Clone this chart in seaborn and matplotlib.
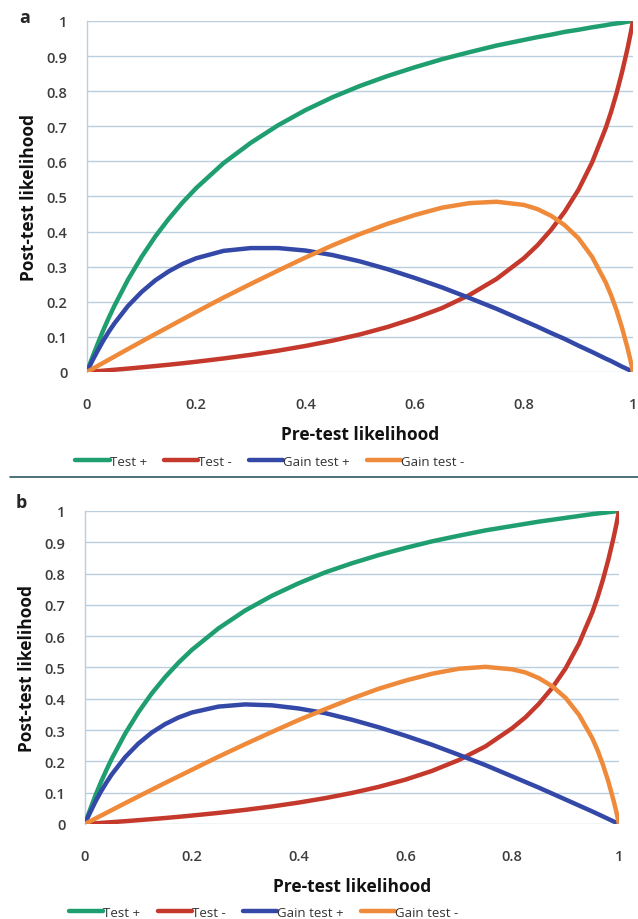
import numpy as np
import pandas as pd
import matplotlib
matplotlib.use("Agg")
import matplotlib.pyplot as plt
import seaborn as sns
from matplotlib.lines import Line2D

# Pre-test likelihood sample points
pre_test = [0, 0.005, 0.01, 0.02, 0.03, 0.04, 0.05, 0.075, 0.1, 0.125, 0.15, 0.175, 0.2,
            0.25, 0.3, 0.35, 0.4, 0.45, 0.5, 0.55, 0.6, 0.65, 0.7, 0.75, 0.8,
            0.825, 0.85, 0.875, 0.9, 0.925, 0.95, 0.96, 0.97, 0.98, 0.99, 0.995, 1]

# Panel a
a_test_pos = [0, 0.022, 0.043, 0.082, 0.120, 0.155, 0.188, 0.263, 0.328, 0.386, 0.437, 0.483, 0.524,
              0.595, 0.653, 0.703, 0.746, 0.783, 0.815, 0.843, 0.868, 0.891, 0.911, 0.930, 0.946,
              0.954, 0.961, 0.969, 0.975, 0.982, 0.988, 0.991, 0.993, 0.995, 0.998, 0.999, 1]
a_test_neg = [0, 0.0006, 0.0012, 0.0024, 0.0037, 0.0050, 0.0063, 0.0096, 0.0132, 0.0169, 0.0207, 0.0248, 0.0291,
              0.0385, 0.0489, 0.0607, 0.0741, 0.0894, 0.107, 0.128, 0.153, 0.182, 0.219, 0.265, 0.324,
              0.361, 0.405, 0.457, 0.519, 0.597, 0.695, 0.742, 0.795, 0.855, 0.922, 0.960, 1]
a_gain_pos = [0, 0.017, 0.033, 0.062, 0.090, 0.115, 0.138, 0.188, 0.228, 0.261, 0.287, 0.308, 0.324,
              0.345, 0.353, 0.353, 0.346, 0.333, 0.315, 0.293, 0.268, 0.241, 0.211, 0.180, 0.146,
              0.129, 0.111, 0.094, 0.075, 0.057, 0.038, 0.031, 0.023, 0.015, 0.008, 0.004, 0]
a_gain_neg = [0, 0.0044, 0.0088, 0.0176, 0.0263, 0.0350, 0.0437, 0.0654, 0.0868, 0.108, 0.129, 0.150, 0.171,
              0.212, 0.251, 0.289, 0.326, 0.361, 0.393, 0.422, 0.447, 0.468, 0.481, 0.485, 0.476,
              0.464, 0.445, 0.418, 0.381, 0.328, 0.255, 0.218, 0.175, 0.125, 0.068, 0.035, 0]

# Panel b
b_test_pos = [0, 0.025, 0.048, 0.093, 0.134, 0.172, 0.208, 0.288, 0.357, 0.417, 0.469, 0.515, 0.556,
              0.625, 0.682, 0.729, 0.769, 0.804, 0.833, 0.859, 0.882, 0.903, 0.921, 0.938, 0.952,
              0.959, 0.966, 0.972, 0.978, 0.984, 0.990, 0.992, 0.994, 0.996, 0.998, 0.999, 1]
b_test_neg = [0, 0.0006, 0.0011, 0.0022, 0.0034, 0.0046, 0.0058, 0.0088, 0.0121, 0.0155, 0.0190, 0.0228, 0.0268,
              0.0354, 0.0450, 0.0559, 0.0683, 0.0826, 0.0991, 0.1185, 0.1416, 0.1696, 0.2042, 0.248, 0.306,
              0.341, 0.384, 0.435, 0.497, 0.576, 0.676, 0.725, 0.781, 0.844, 0.916, 0.956, 1]
b_gain_pos = [0, 0.020, 0.038, 0.073, 0.104, 0.132, 0.158, 0.213, 0.257, 0.292, 0.319, 0.340, 0.356,
              0.375, 0.382, 0.379, 0.369, 0.354, 0.333, 0.309, 0.282, 0.253, 0.221, 0.188, 0.152,
              0.134, 0.116, 0.097, 0.078, 0.059, 0.040, 0.032, 0.024, 0.016, 0.008, 0.004, 0]
b_gain_neg = [0, 0.0045, 0.0089, 0.0178, 0.0266, 0.0354, 0.0442, 0.0662, 0.0879, 0.1095, 0.131, 0.152, 0.173,
              0.215, 0.255, 0.294, 0.332, 0.367, 0.401, 0.432, 0.458, 0.480, 0.496, 0.502, 0.494,
              0.484, 0.466, 0.440, 0.403, 0.349, 0.274, 0.235, 0.189, 0.136, 0.074, 0.039, 0]

series_names = ["Test +", "Test -", "Gain test +", "Gain test -"]
colors = ["#1f9e70", "#c4392c", "#3448a8", "#ef8a3a"]
tick_vals = [0, 0.2, 0.4, 0.6, 0.8, 1]
tick_labels = ["0", "0.2", "0.4", "0.6", "0.8", "1"]
ytick_vals = [0, 0.1, 0.2, 0.3, 0.4, 0.5, 0.6, 0.7, 0.8, 0.9, 1]
ytick_labels = ["0", "0.1", "0.2", "0.3", "0.4", "0.5", "0.6", "0.7", "0.8", "0.9", "1"]


def make_df(s1, s2, s3, s4):
    frames = []
    for name, vals in zip(series_names, [s1, s2, s3, s4]):
        frames.append(pd.DataFrame({"x": pre_test, "y": vals, "series": name}))
    return pd.concat(frames, ignore_index=True)


df_a = make_df(a_test_pos, a_test_neg, a_gain_pos, a_gain_neg)
df_b = make_df(b_test_pos, b_test_neg, b_gain_pos, b_gain_neg)

sns.set_style("white")
plt.rcParams["font.family"] = ["Open Sans", "DejaVu Sans"]

fig = plt.figure(figsize=(6.38, 9.2), dpi=100)
ax_a = fig.add_axes([0.1364, 0.5946, 0.8558, 0.3815])
ax_b = fig.add_axes([0.1332, 0.1033, 0.837, 0.3402])

grid_col = "#b9cfdf"
tick_col = "#3d3d3d"

for ax, df in [(ax_a, df_a), (ax_b, df_b)]:
    for yv in ytick_vals:
        ax.axhline(yv, color=grid_col, lw=1.0, zorder=0)
    sns.lineplot(data=df, x="x", y="y", hue="series", hue_order=series_names,
                 palette=colors, linewidth=3.2, ax=ax, legend=False, sort=False,
                 estimator=None, zorder=3)
    for ln in ax.get_lines():
        ln.set_solid_joinstyle("round")
        ln.set_solid_capstyle("round")
    ax.set_xlim(0, 1)
    ax.set_ylim(0, 1)
    ax.set_xticks(tick_vals)
    ax.set_xticklabels(tick_labels)
    ax.set_yticks(ytick_vals)
    ax.set_yticklabels(ytick_labels)
    for sp in ["top", "right", "bottom"]:
        ax.spines[sp].set_visible(False)
    ax.spines["left"].set_color(grid_col)
    ax.spines["left"].set_linewidth(1.0)
    ax.tick_params(axis="both", length=0, labelsize=10.5, colors=tick_col)
    ax.tick_params(axis="x", pad=18)
    ax.tick_params(axis="y", pad=14)
    for lbl in ax.get_xticklabels() + ax.get_yticklabels():
        lbl.set_fontweight("semibold")
    ax.set_xlabel("Pre-test likelihood", fontsize=12.5, fontweight="bold", color="#111111", labelpad=10)
    ax.set_ylabel("Post-test likelihood", fontsize=12.5, fontweight="bold", color="#111111", labelpad=6)
    ax.grid(False)

handles = [Line2D([0], [0], color=c, lw=3.2) for c in colors]
ax_a.legend(handles, series_names, loc="center", bbox_to_anchor=(0.335, -0.255),
            ncol=4, frameon=False, fontsize=9.5, handlelength=2.6, handletextpad=0.0,
            columnspacing=1.3, labelcolor="#333333")
ax_b.legend(handles, series_names, loc="center", bbox_to_anchor=(0.335, -0.282),
            ncol=4, frameon=False, fontsize=9.5, handlelength=2.6, handletextpad=0.0,
            columnspacing=1.3, labelcolor="#333333")

fig.text(25 / 638, 1 - 18 / 920, "a", fontsize=13, fontweight="bold", ha="center", va="center")
fig.text(21 / 638, 1 - 503 / 920, "b", fontsize=13, fontweight="bold", ha="center", va="center")
fig.add_artist(Line2D([10 / 638, 1.0], [1 - 478 / 920, 1 - 478 / 920], color="#2f5a60", lw=1.2))

fig.savefig("out.png", dpi=100, facecolor="white")
